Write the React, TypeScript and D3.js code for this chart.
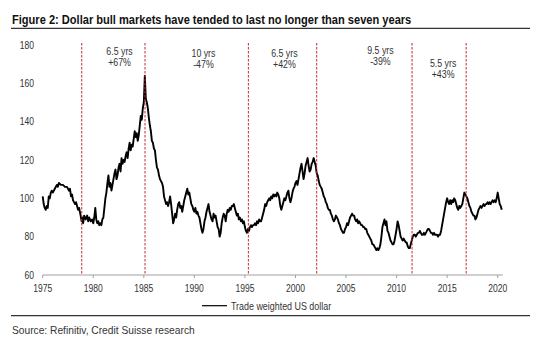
import * as d3 from 'd3';

// decimal years and trade weighted dollar index
const years = [
  1975.0, 1975.1, 1975.2, 1975.3, 1975.4, 1975.5, 1975.6, 1975.7, 1975.8, 1975.9,
  1976.0, 1976.2, 1976.4, 1976.5, 1976.6, 1976.8, 1977.0, 1977.2, 1977.4, 1977.6,
  1977.7, 1977.8, 1977.9, 1978.0, 1978.2, 1978.3, 1978.5, 1978.6, 1978.75, 1978.85,
  1978.9, 1979.0, 1979.1, 1979.25, 1979.4, 1979.5, 1979.6, 1979.75, 1979.9, 1980.0,
];
const values = [
  101, 97, 95, 94, 96, 95, 101, 100, 103, 104,
  103, 105, 107, 106, 108, 107, 107, 106, 106, 104,
  105, 101, 102, 99, 97, 98, 94, 95, 91, 88,
  90, 87, 91, 89, 91, 88, 90, 88, 89, 87,
];
// 1980 onwards, one point every 0.1 year
const start80 = 1980.1;
const values80s = [
  90, 95, 89, 87, 88, 86, 87, 86, 89, 90,
  95, 100, 103, 108, 112, 106, 108, 104, 107, 110,
  113, 115, 110, 112, 116, 118, 114, 121, 118, 120,
  119, 122, 124, 121, 126, 129, 125, 128, 127, 131,
  135, 132, 134, 130, 133, 138, 143, 141, 147, 150,
  164, 152, 150, 147, 142, 138, 135, 130, 129, 126,
  125, 120, 116, 115, 112, 110, 109, 108, 106, 101,
  99, 97, 98, 96, 98, 101, 97, 92, 87, 89,
  92, 90, 94, 97, 98, 95, 96, 93, 96, 99,
  101, 103, 105, 102, 103, 100, 97, 96, 94, 93,
];
const values90s = [
  95, 92, 93, 91, 90, 87, 84, 82, 84, 88,
  90, 93, 95, 97, 93, 91, 89, 88, 92, 90,
  91, 88, 85, 84, 80, 82, 87, 90, 92, 91,
  88, 92, 94, 93, 95, 94, 96, 96, 97, 95,
  93, 91, 92, 89, 90, 88, 89, 87, 88, 85,
  83, 82, 84, 83, 85, 86, 85, 86, 86, 87,
  86, 88, 87, 89, 88, 88, 90, 92, 94, 97,
  96, 98, 99, 100, 99, 101, 100, 102, 101, 102,
  101, 103, 102, 100, 96, 94, 96, 98, 100, 99,
  101, 103, 104, 100, 98, 100, 103, 105, 106, 108,
];
const values00s = [
  109, 107, 110, 113, 116, 118, 114, 110, 113, 117,
  119, 121, 117, 114, 115, 118, 119, 121, 119, 117,
  113, 112, 109, 107, 106, 105, 103, 101, 100, 98,
  97, 95, 94, 94, 92, 91, 89, 88, 89, 91,
  90, 89, 87, 86, 84, 83, 82, 82, 84, 85,
  87, 86, 88, 90, 91, 92, 91, 91, 89, 88,
  89, 87, 88, 87, 86, 86, 85, 85, 84, 84,
  82, 81, 80, 79, 78, 76, 76, 75, 74, 73,
  74, 73, 74, 76, 80, 85, 87, 89, 86, 88,
  83, 82, 80, 78, 77, 76, 76, 78, 81, 84,
];
const values10s = [
  88, 86, 83, 80, 79, 78, 79, 78, 77, 77,
  75, 74, 74, 76, 78, 80, 81, 81, 80, 81,
  82, 82, 83, 82, 81, 81, 82, 81, 82, 83,
  84, 84, 83, 82, 82, 81, 82, 81, 81, 81,
  80, 81, 81, 83, 86, 89, 92, 95, 98, 100,
  98, 97, 99, 97, 99, 98, 100, 99, 97, 95,
  94, 96, 95, 96, 97, 100, 103, 102, 101, 100,
  98, 96, 95, 93, 92, 91, 91, 89, 90, 92,
  94, 95, 96, 95, 96, 97, 96, 97, 97, 98,
  97, 98, 97, 98, 99, 98, 99, 98, 100, 103,
  100, 97, 96, 94,
];

// turning points marked with dashed lines, and the labels between them
const turningPoints = [1978.86, 1985.12, 1995.34, 2002.1, 2011.53, 2016.88];
const spanYears = ['6.5 yrs', '10 yrs', '6.5 yrs', '9.5 yrs', '5.5 yrs'];
const spanMoves = ['+67%', '-47%', '+42%', '-39%', '+43%'];
const spanLabelX = [1982.6, 1990.9, 1998.9, 2008.4, 2014.6];
const spanLabelY = [55, 57, 57, 53.5, 67];

const xTicks = [1975, 1980, 1985, 1990, 1995, 2000, 2005, 2010, 2015, 2020];
const yTicks = [60, 80, 100, 120, 140, 160, 180];

const title = 'Figure 2: Dollar bull markets have tended to last no longer than seven years';
const legendLabel = 'Trade weighted US dollar';
const source = 'Source: Refinitiv, Credit Suisse research';

const font = 'Liberation Sans, Arial, sans-serif';

function Txt({ x, y, children, size = 11, sx = 0.76, anchor = 'start', weight = 'normal', fill = '#333' }: any) {
  return (
    <g transform={`translate(${x},${y}) scale(${sx},1)`}>
      <text fontFamily={font} fontSize={size} fontWeight={weight} fill={fill} textAnchor={anchor}>
        {children}
      </text>
    </g>
  );
}

export default function App() {
  const width = 550;
  const height = 350;

  const series: [number, number][] = [
    ...years.map((y, i) => [y, values[i]] as [number, number]),
    ...[...values80s, ...values90s, ...values00s, ...values10s].map(
      (v, i) => [start80 + i * 0.1, v] as [number, number]
    ),
  ];

  const x = d3.scaleLinear().domain([1975, 2020]).range([42.7, 497.7]);
  const y = d3.scaleLinear().domain([60, 180]).range([275, 45]);

  const line = d3.line<[number, number]>()
    .x(d => x(d[0]))
    .y(d => y(d[1]))
    .curve(d3.curveLinear);

  return (
    <svg width={width} height={height} style={{ position: 'absolute', left: 0, top: 0, background: '#fff' }}>
      <Txt x={12} y={23.5} size={13.6} sx={0.815} weight="bold" fill="#111">{title}</Txt>
      <line x1={11} x2={530} y1={28.3} y2={28.3} stroke="#333" strokeWidth={1.2} />

      {yTicks.map(t => (
        <Txt key={t} x={34} y={y(t) + 3.8} size={10.7} sx={0.8} anchor="end">{t}</Txt>
      ))}

      <line x1={x(1975)} x2={x(2020.5)} y1={y(60)} y2={y(60)} stroke="#a0a0a0" strokeWidth={1} />
      {xTicks.map(t => (
        <g key={t}>
          <line x1={x(t)} x2={x(t)} y1={y(60)} y2={y(60) + 3} stroke="#a0a0a0" />
          <Txt x={x(t)} y={291.5} size={10.7} sx={0.8} anchor="middle">{t}</Txt>
        </g>
      ))}

      <path d={line(series) ?? ''} fill="none" stroke="#000" strokeWidth={1.9} strokeLinejoin="round" />

      {turningPoints.map(t => (
        <line key={t} x1={x(t)} x2={x(t)} y1={43} y2={y(60)} stroke="#c0282d" strokeWidth={1} strokeDasharray="2.5,1.5" />
      ))}

      {spanYears.map((s, i) => (
        <g key={i}>
          <Txt x={x(spanLabelX[i])} y={spanLabelY[i]} size={11} sx={0.8} anchor="middle">{s}</Txt>
          <Txt x={x(spanLabelX[i])} y={spanLabelY[i] + 11} size={11} sx={0.8} anchor="middle">{spanMoves[i]}</Txt>
        </g>
      ))}

      <line x1={202} x2={227} y1={305.7} y2={305.7} stroke="#000" strokeWidth={1.2} />
      <Txt x={231} y={309.5} size={11} sx={0.81}>{legendLabel}</Txt>

      <line x1={11} x2={530} y1={315.7} y2={315.7} stroke="#333" strokeWidth={1.2} />
      <Txt x={12} y={334} size={11} sx={0.93}>{source}</Txt>
    </svg>
  );
}
